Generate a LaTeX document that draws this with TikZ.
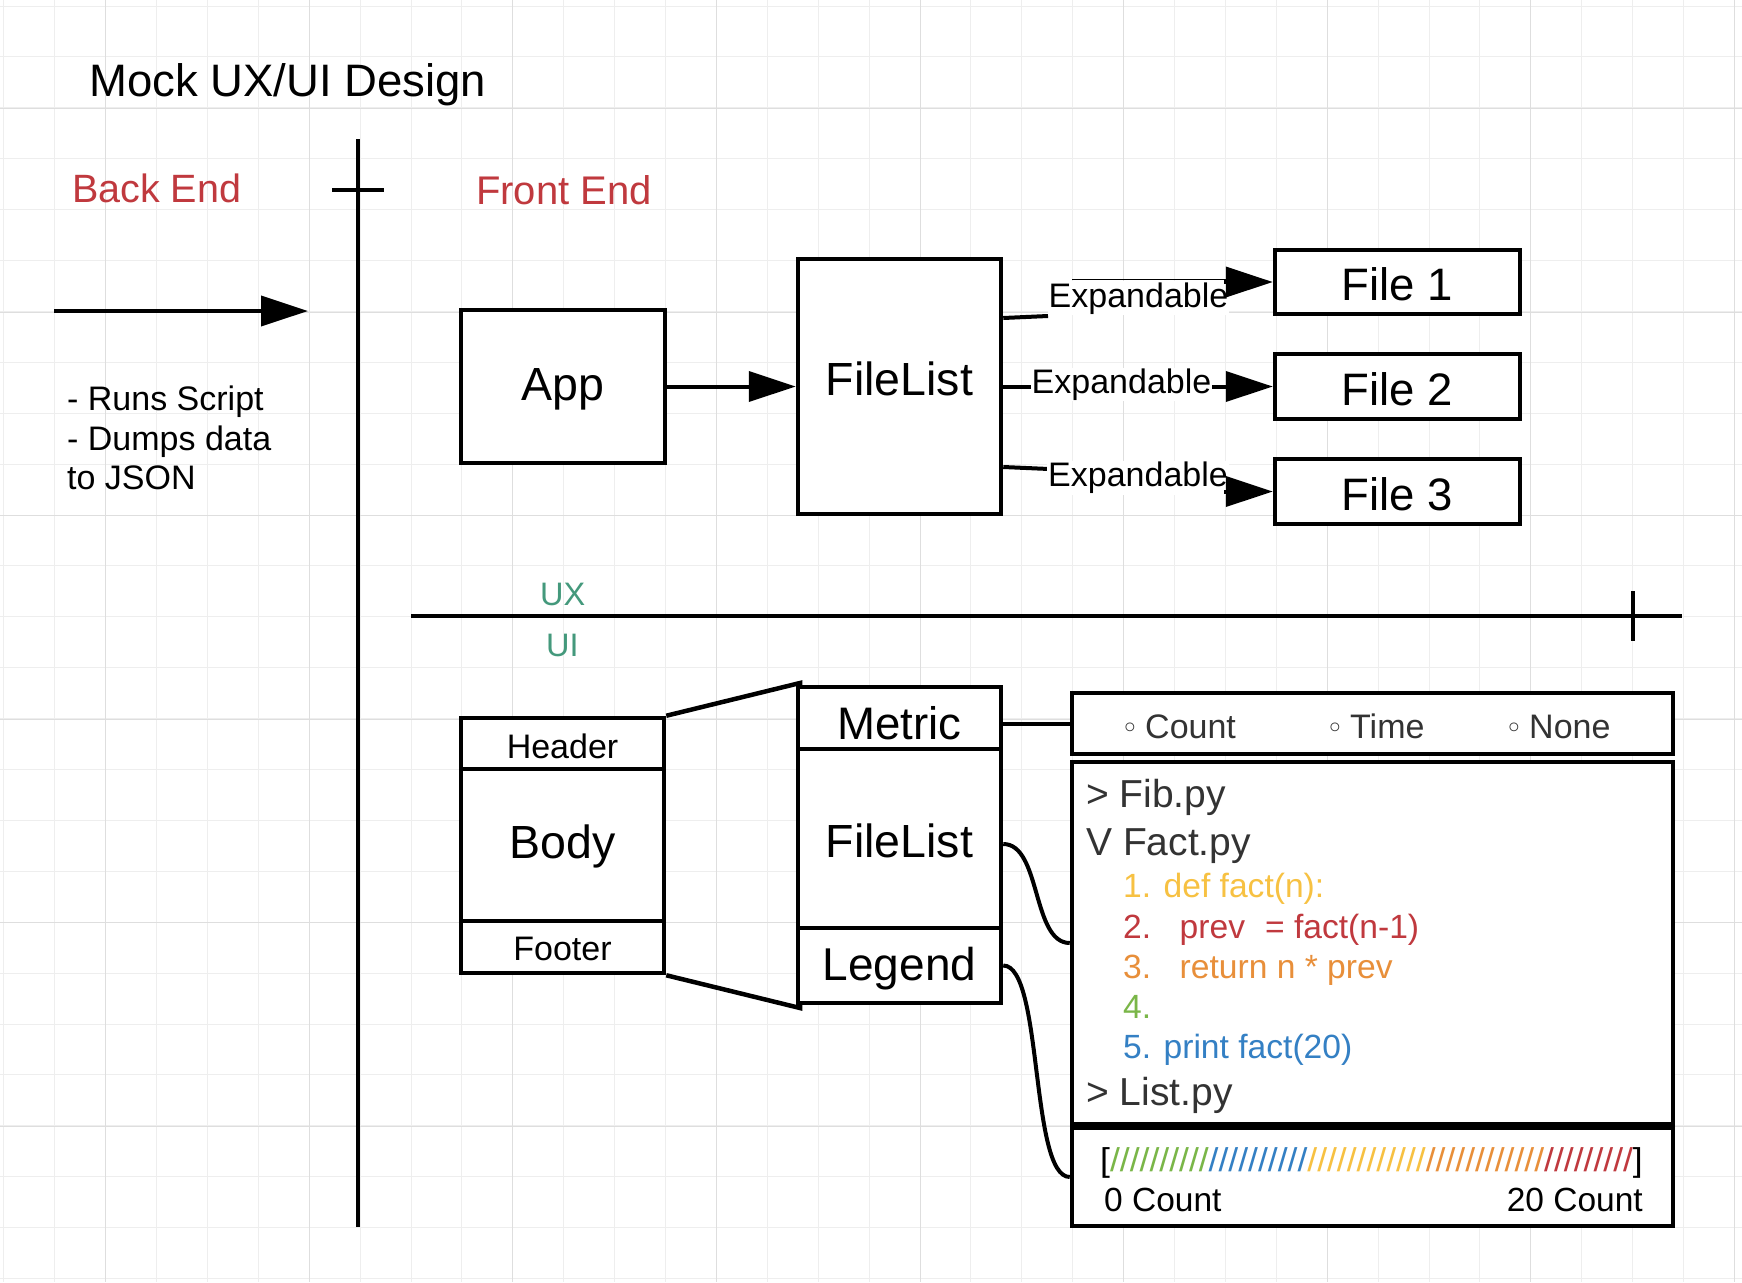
\documentclass[tikz,border=0pt]{standalone}
\usepackage{graphicx}
\usepackage{fontspec}
\setmainfont{Liberation Sans}
\newfontfamily\bulfont{DejaVu Sans}
\usetikzlibrary{arrows.meta}
\definecolor{bered}{RGB}{192,57,62}
\definecolor{uxgreen}{RGB}{68,153,124}
\definecolor{codegray}{RGB}{51,51,51}
\definecolor{cyellow}{RGB}{247,193,66}
\definecolor{cred}{RGB}{192,57,62}
\definecolor{corange}{RGB}{232,143,58}
\definecolor{cgreen}{RGB}{122,182,72}
\definecolor{cblue}{RGB}{52,128,196}
\definecolor{gridminor}{RGB}{238,238,238}
\definecolor{gridmajor}{RGB}{222,222,222}
\newcommand\fsz[1]{\fontsize{#1}{#1}\selectfont}
\tikzset{
  box/.style={draw=black, line width=4.5pt, fill=white, inner sep=0pt, rectangle},
  bo/.style={text height=#1, text depth=0pt},
  conn/.style={draw=black, line width=4pt},
  arr/.style={conn, -{Triangle[length=47pt,width=30pt]}},
  txt/.style={inner sep=0pt, anchor=base west},
  lbl/.style={fill=white, inner sep=1pt, anchor=base, font=\fsz{34}},
  gmin/.style={draw=gridminor, line width=1pt},
  gmaj/.style={draw=gridmajor, line width=1pt},
}
\begin{document}
\begin{tikzpicture}[x=1pt,y=-1pt]
\useasboundingbox (0,0) rectangle (1742,1282);
\fill[white] (0,0) rectangle (1742,1282);
% grid
\foreach \i in {0,...,34}{\draw[gmin] ({3.8+50.9*\i},0) -- ({3.8+50.9*\i},1282);}
\foreach \j in {0,...,25}{\draw[gmin] (0,{6+50.9*\j}) -- (1742,{6+50.9*\j});}
\foreach \i in {0,...,8}{\draw[gmaj] ({105.6+203.6*\i},0) -- ({105.6+203.6*\i},1282);}
\foreach \j in {0,...,5}{\draw[gmaj] (0,{108.5+203.6*\j}) -- (1742,{108.5+203.6*\j});}

% titles and free texts
\node[txt, font=\fsz{45.5}] (title) at (89,96) {Mock UX/UI Design};
\node[txt, font=\fsz{39.5}, text=bered] (be) at (72,202) {Back End};
\node[txt, font=\fsz{40}, text=bered] (fe) at (476,204) {Front End};
\node[txt, font=\fsz{34}] (bl1) at (67,410) {- Runs Script};
\node[txt, font=\fsz{34}] (bl2) at (67,450) {- Dumps data};
\node[txt, font=\fsz{34}] (bl3) at (67,489) {to JSON};
\node[txt, font=\fsz{32.5}, text=uxgreen] (ux) at (540,605) {UX};
\node[txt, font=\fsz{32.5}, text=uxgreen] (ui) at (546,656) {UI};

% dividers
\coordinate (vtop) at (358,139);
\coordinate (vbot) at (358,1227);
\coordinate (tka) at (332,190);
\coordinate (tkb) at (384,190);
\draw[conn, line width=4.5pt] (vtop) -- (vbot);
\draw[conn, line width=4.5pt] (tka) -- (tkb);
\coordinate (hl) at (411,616);
\coordinate (hr) at (1682,616);
\coordinate (hta) at (1633,591);
\coordinate (htb) at (1633,641);
\draw[conn, line width=4.5pt] (hl) -- (hr);
\draw[conn, line width=4pt] (hta) -- (htb);

% back end arrow
\coordinate (ba) at (54,311);
\coordinate (bb) at (308,311);
\draw[arr] (ba) -- (bb);

% front end boxes
\node[box, minimum width=204pt, minimum height=153pt, bo=27pt, font=\fsz{46.5}] (app) at (563,386.5) {App};
\node[box, minimum width=203pt, minimum height=255pt, bo=17pt, font=\fsz{46.5}] (fl) at (899.5,386.5) {FileList};
\node[box, minimum width=245pt, minimum height=64pt, bo=36pt, font=\fsz{45.5}] (f1) at (1397.5,282) {File 1};
\node[box, minimum width=245pt, minimum height=65pt, bo=37pt, font=\fsz{45.5}] (f2) at (1397.5,386.5) {File 2};
\node[box, minimum width=245pt, minimum height=65pt, bo=37pt, font=\fsz{45.5}] (f3) at (1397.5,491.5) {File 3};

\draw[arr] (app.east) -- (fl.west);

% connector 1
\coordinate (e1a) at (1048,316);
\coordinate (e1b) at (1224,282);
\coordinate (t1a) at (1072,279);
\coordinate (t1b) at (1226,279);
\draw[conn] ([yshift=68.5pt]fl.east) -- (e1a);
\draw[line width=1pt] (t1a) -- (t1b);
\node[lbl] (x1) at (1138.5,307) {Expandable};
\draw[arr] (e1b) -- (f1.west);
% connector 2
\draw[arr] (fl.east) -- (f2.west);
\node[lbl] (x2) at (1121.5,393.3) {Expandable};
% connector 3
\coordinate (e3a) at (1049,469);
\coordinate (e3b) at (1224,491.5);
\draw[conn] ([yshift=-80.5pt]fl.east) -- (e3a);
\node[lbl] (x3) at (1138,486.7) {Expandable};
\draw[arr] (e3b) -- (f3.west);

% UI left stack
\node[box, minimum width=203pt, minimum height=51pt, bo=29.6pt, font=\fsz{34}] (hdr) at (562.5,743.5) {Header};
\node[box, minimum width=203pt, minimum height=152pt, bo=26pt, font=\fsz{46.5}] (body) at (562.5,845) {Body};
\node[box, minimum width=203pt, minimum height=52pt, bo=26pt, font=\fsz{34}] (ftr) at (562.5,947) {Footer};

% trapezoid
\coordinate (tzt) at (800,683);
\coordinate (tzb) at (800,1008);
\draw[conn, line width=4.5pt] (hdr.north east) -- (tzt) -- (tzb) -- (ftr.south east);

% UI right stack
\node[box, minimum width=203pt, minimum height=62pt, bo=42pt, font=\fsz{45.6}] (met) at (899.5,718) {Metric};
\node[box, minimum width=203pt, minimum height=179pt, bo=37pt, font=\fsz{46.5}] (ufl) at (899.5,838.5) {FileList};
\node[box, minimum width=203pt, minimum height=75pt, bo=29pt, font=\fsz{46}] (leg) at (899.5,965.5) {Legend};

% panels
\node[box, minimum width=601pt, minimum height=61pt] (radio) at (1372.5,723.5) {};
\node[box, minimum width=601pt, minimum height=362pt] (code) at (1372.5,943) {};
\node[box, minimum width=601pt, minimum height=98pt] (bar) at (1372.5,1177) {};

\draw[conn] (met.east |- radio.west) -- (radio.west);
\draw[conn] ([yshift=-5.5pt]ufl.east) .. controls +(38,0) and +(-38,0) .. (code.west);
\draw[conn] (leg.east) .. controls +(40,0) and +(-40,0) .. (bar.west);

% radio texts
\node[txt, font=\fsz{34}, text=codegray] (rc) at (1121,738) {\makebox[24pt][l]{\bulfont\fsz{30}◦}Count};
\node[txt, font=\fsz{34}, text=codegray] (rt) at (1326,738) {\makebox[24pt][l]{\bulfont\fsz{30}◦}Time};
\node[txt, font=\fsz{34}, text=codegray] (rn) at (1505,738) {\makebox[24pt][l]{\bulfont\fsz{30}◦}None};

% code texts
\node[txt, font=\fsz{39}, text=codegray] (l0) at (1086,807) {> Fib.py};
\node[txt, font=\fsz{39}, text=codegray] (l1) at (1086,855) {V Fact.py};
\node[txt, font=\fsz{33.6}, text=cyellow] (l2) at (1123,897) {1. def fact(n):};
\node[txt, font=\fsz{33.6}, text=cred] (l3) at (1123,938) {2.\hspace{28.5pt}prev\hspace{20pt}= fact(n-1)};
\node[txt, font=\fsz{33.6}, text=corange] (l4) at (1123,978) {3.\hspace{28.5pt}return n * prev};
\node[txt, font=\fsz{33.6}, text=cgreen] (l5) at (1123,1018) {4.};
\node[txt, font=\fsz{33.6}, text=cblue] (l6) at (1123,1058) {5. print fact(20)};
\node[txt, font=\fsz{39}, text=codegray] (l7) at (1086,1105) {> List.py};

% legend bar
\node[txt, font=\fsz{33}] (scl) at (1100,1171) {\scalebox{1.076}[1]{[\textcolor{cgreen}{//////////}\textcolor{cblue}{//////////}\textcolor{cyellow}{////////////}\textcolor{corange}{////////////}\textcolor{cred}{/////////}]}};
\node[txt, font=\fsz{33.5}] (c0) at (1104,1211) {0 Count};
\node[txt, anchor=base east, font=\fsz{33.5}] (c20) at (1643,1211) {20 Count};
\end{tikzpicture}
\end{document}
